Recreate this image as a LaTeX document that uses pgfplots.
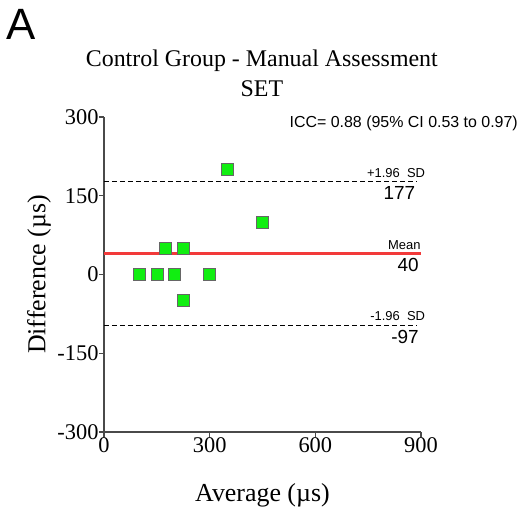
\documentclass[border=0pt]{standalone}
\usepackage{fontspec}
\setmainfont{Liberation Serif}
\newfontfamily\arial{Liberation Sans}
\usepackage{pgfplots}
\pgfplotsset{compat=1.18}
\definecolor{ptgreen}{HTML}{11EE11}
\definecolor{meanred}{HTML}{F23A3A}
\definecolor{axgray}{HTML}{4A4A4A}

\begin{document}
\begin{tikzpicture}
\begin{axis}[
    at={(0,0)}, anchor=south west,
    scale only axis,
    width=317bp, height=315bp,
    xmin=0, xmax=900, ymin=-300, ymax=300,
    axis x line=bottom, axis y line=left,
    axis line style={-, axgray, line width=1.3bp},
    tick style={axgray, line width=1.2bp},
    tick align=outside, major tick length=5bp,
    xtick={0,300,600,900}, xticklabels={0,300,600,900},
    ytick={-300,-150,0,150,300}, yticklabels={-300,-150,0,150,300},
    ticklabel style={font=\fontsize{22.5}{24}\selectfont},
    xticklabel style={yshift=3bp},
    yticklabel style={xshift=3bp},
    xlabel={Average (µs)},
    ylabel={Difference (µs)},
    label style={font=\fontsize{26}{30}\selectfont},
    xlabel style={at={(axis description cs:0.5,-0.2)}, anchor=center},
    ylabel style={at={(axis description cs:-0.205,0.5)}, anchor=center},
    clip=false,
]
% limits of agreement
\addplot[black, line width=1.8bp, dash pattern=on 5bp off 3bp] coordinates {(0,177) (890,177)};
\addplot[black, line width=1.8bp, dash pattern=on 5bp off 3bp] coordinates {(0,-97) (890,-97)};
\addplot[meanred, line width=2.2bp] coordinates {(0,40) (900,40)};

% differences
\addplot[only marks, mark=square*, mark size=6bp,
    mark options={fill=ptgreen, draw=gray!80!black, line width=0.6bp}]
    coordinates {
    (350,200) (450,100) (175,50) (225,50)
    (100,0) (150,0) (200,0) (300,0) (225,-50)
    };

\node[anchor=south east, font=\arial\fontsize{13}{14}\selectfont, inner sep=1bp]
    at (axis cs:915,183) {+1.96\ \ SD};
\node[anchor=north east, font=\arial\fontsize{19}{20}\selectfont, inner sep=1bp]
    at (axis cs:887,170) {177};
\node[anchor=south east, font=\arial\fontsize{13}{14}\selectfont, inner sep=1bp]
    at (axis cs:902,46) {Mean};
\node[anchor=north east, font=\arial\fontsize{19}{20}\selectfont, inner sep=1bp]
    at (axis cs:897,33) {40};
\node[anchor=south east, font=\arial\fontsize{13}{14}\selectfont, inner sep=1bp]
    at (axis cs:915,-91) {-1.96\ \ SD};
\node[anchor=north east, font=\arial\fontsize{19}{20}\selectfont, inner sep=1bp]
    at (axis cs:897,-104) {-97};

\node[anchor=west, font=\arial\fontsize{16}{18}\selectfont, inner sep=0pt]
    at (axis description cs:0.585,0.98) {ICC= 0.88 (95\% CI 0.53 to 0.97)};

\node[align=center, font=\fontsize{24}{30}\selectfont]
    at (axis description cs:0.498,1.14) {Control Group - Manual Assessment\\SET};
\node[font=\arial\fontsize{44}{46}\selectfont]
    at (axis description cs:-0.262,1.295) {A};
\end{axis}
\path[use as bounding box] (-104bp,-81bp) rectangle (424bp,432bp);
\end{tikzpicture}
\end{document}
